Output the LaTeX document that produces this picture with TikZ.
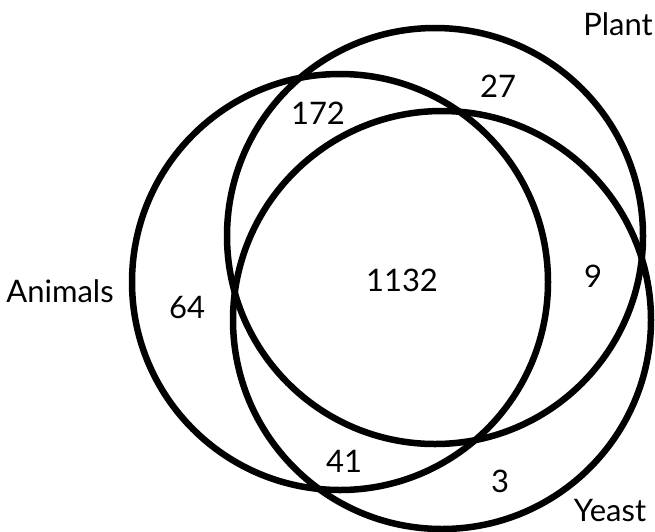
\documentclass[tikz,border=0pt]{standalone}
\usepackage{fontspec}
\setmainfont{Lato}
\usepackage{tikz}

\begin{document}
\begin{tikzpicture}[x=1pt,y=-1pt]
  \useasboundingbox (0,0) rectangle (655,531);
  \tikzset{ring/.style={line width=6.5pt},
    lab/.style={font=\fontsize{31}{36}\selectfont,inner sep=1pt}}
  \coordinate (A) at (340,282);
  \coordinate (P) at (435,236);
  \coordinate (Y) at (442,320);
  \draw[ring] (A) circle (208);
  \draw[ring] (P) circle (208);
  \draw[ring] (Y) circle (209);
  \node[lab] (plant) at (618,24) {Plant};
  \node[lab] (yeast) at (610,511) {Yeast};
  \node[lab] (animals) at (60,291) {Animals};
  \node[lab] (nA) at (187,308) {64};
  \node[lab] (nAP) at (318,113) {172};
  \node[lab] (nP) at (498,86) {27};
  \node[lab] (nAPY) at (402,280) {1132};
  \node[lab] (nPY) at (593,276) {9};
  \node[lab] (nAY) at (344,461) {41};
  \node[lab] (nY) at (500,481) {3};
\end{tikzpicture}
\end{document}
